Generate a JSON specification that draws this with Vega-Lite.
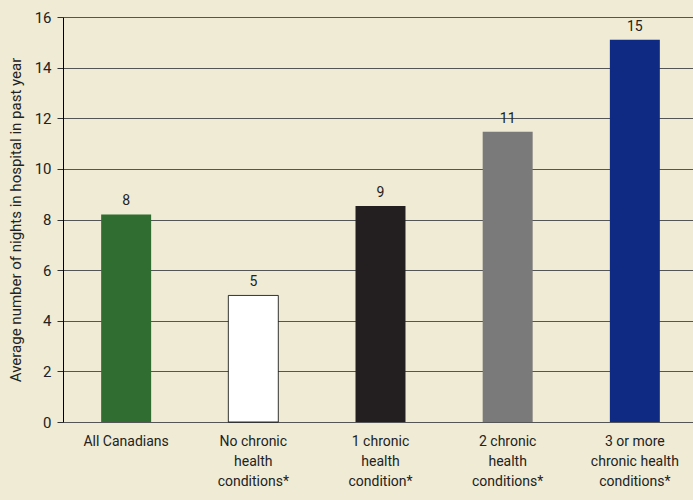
{
  "$schema": "https://vega.github.io/schema/vega-lite/v6.json",
  "width": 630,
  "height": 405,
  "autosize": {"type": "none"},
  "padding": {"left": 63, "top": 17, "right": 0, "bottom": 78},
  "background": "#efebd5",
  "config": {
    "view": {"stroke": null},
    "font": "Roboto",
    "axis": {"labelFont": "Roboto", "titleFont": "Roboto"}
  },
  "data": {
    "values": [
      {"group": "All Canadians", "value": 8.2, "label": "8", "color": "#2f6e30"},
      {"group": "No chronic|health|conditions*", "value": 5.0, "label": "5", "color": "#ffffff"},
      {"group": "1 chronic|health|condition*", "value": 8.53, "label": "9", "color": "#231f20"},
      {"group": "2 chronic|health|conditions*", "value": 11.47, "label": "11", "color": "#7b7a7b"},
      {"group": "3 or more|chronic health|conditions*", "value": 15.1, "label": "15", "color": "#0f2a82"}
    ]
  },
  "encoding": {
    "x": {
      "field": "group",
      "type": "nominal",
      "sort": null,
      "scale": {"paddingInner": 0.607, "paddingOuter": 0.3, "range": [0, 635]},
      "axis": {
        "title": null,
        "labelAngle": 0,
        "domain": false,
        "ticks": false,
        "labelPadding": 12,
        "labelFontSize": 14,
        "labelColor": "#222222",
        "labelLineHeight": 20,
        "labelExpr": "split(datum.label, '|')"
      }
    },
    "y": {
      "field": "value",
      "type": "quantitative",
      "scale": {"domain": [0, 16], "nice": false},
      "axis": {
        "title": "Average number of nights in hospital in past year",
        "titleFontSize": 15,
        "titleFontWeight": "normal",
        "titleColor": "#222222",
        "titlePadding": 11,
        "values": [0, 2, 4, 6, 8, 10, 12, 14, 16],
        "labelFontSize": 15,
        "labelColor": "#222222",
        "labelPadding": 6,
        "tickSize": 6,
        "tickColor": "#333333",
        "domainColor": "#000000",
        "gridColor": "#555555",
        "gridWidth": 1.2,
        "gridOpacity": 1
      }
    }
  },
  "layer": [
    {
      "mark": {"type": "bar", "strokeWidth": 0.8},
      "encoding": {
        "fill": {"field": "color", "type": "nominal", "scale": null},
        "stroke": {"condition": {"test": "datum.color == '#ffffff'", "value": "#000000"}, "value": null}
      }
    },
    {
      "mark": {"type": "text", "baseline": "bottom", "dy": -6, "fontSize": 14, "color": "#222222"},
      "encoding": {"text": {"field": "label"}}
    }
  ]
}
